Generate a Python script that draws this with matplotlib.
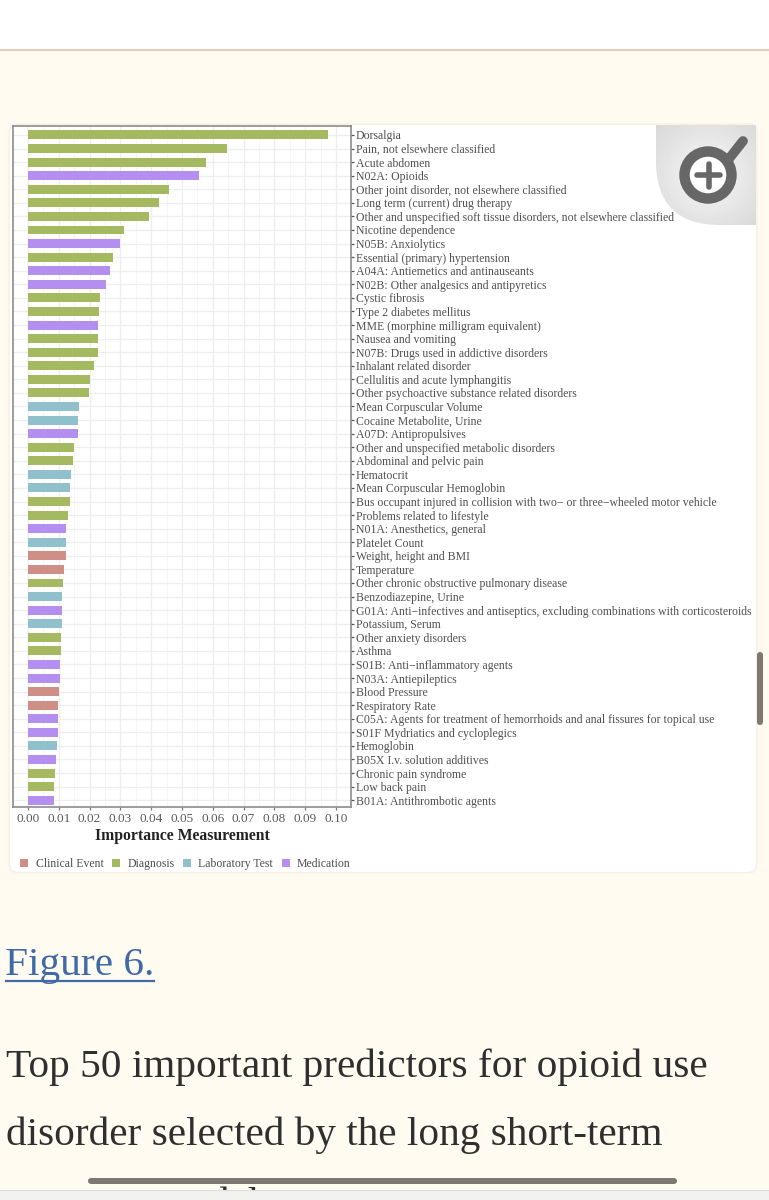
import numpy as np
import matplotlib
matplotlib.use('Agg')
import matplotlib.pyplot as plt
from matplotlib.patches import FancyBboxPatch, Rectangle, Circle, PathPatch
from matplotlib.path import Path

plt.rcParams['font.family'] = ['Liberation Serif', 'DejaVu Serif']

labels = [
    'Dorsalgia', 'Pain, not elsewhere classified', 'Acute abdomen', 'N02A: Opioids',
    'Other joint disorder, not elsewhere classified', 'Long term (current) drug therapy',
    'Other and unspecified soft tissue disorders, not elsewhere classified',
    'Nicotine dependence', 'N05B: Anxiolytics', 'Essential (primary) hypertension',
    'A04A: Antiemetics and antinauseants', 'N02B: Other analgesics and antipyretics',
    'Cystic fibrosis', 'Type 2 diabetes mellitus', 'MME (morphine milligram equivalent)',
    'Nausea and vomiting', 'N07B: Drugs used in addictive disorders',
    'Inhalant related disorder', 'Cellulitis and acute lymphangitis',
    'Other psychoactive substance related disorders', 'Mean Corpuscular Volume',
    'Cocaine Metabolite, Urine', 'A07D: Antipropulsives',
    'Other and unspecified metabolic disorders', 'Abdominal and pelvic pain', 'Hematocrit',
    'Mean Corpuscular Hemoglobin',
    'Bus occupant injured in collision with two\u2212 or three\u2212wheeled motor vehicle',
    'Problems related to lifestyle', 'N01A: Anesthetics, general', 'Platelet Count',
    'Weight, height and BMI', 'Temperature', 'Other chronic obstructive pulmonary disease',
    'Benzodiazepine, Urine',
    'G01A: Anti\u2212infectives and antiseptics, excluding combinations with corticosteroids',
    'Potassium, Serum', 'Other anxiety disorders', 'Asthma',
    'S01B: Anti\u2212inflammatory agents', 'N03A: Antiepileptics', 'Blood Pressure',
    'Respiratory Rate',
    'C05A: Agents for treatment of hemorrhoids and anal fissures for topical use',
    'S01F Mydriatics and cycloplegics', 'Hemoglobin', 'B05X I.v. solution additives',
    'Chronic pain syndrome', 'Low back pain', 'B01A: Antithrombotic agents',
]

values = [
    0.0974, 0.0645, 0.0577, 0.0555, 0.0457, 0.0424, 0.0392, 0.0313, 0.0298, 0.0275,
    0.0265, 0.0252, 0.0235, 0.0232, 0.0227, 0.0227, 0.0226, 0.0215, 0.0201, 0.0197,
    0.0165, 0.0164, 0.0163, 0.0148, 0.0146, 0.0141, 0.0137, 0.0135, 0.0131, 0.0125,
    0.0123, 0.0122, 0.0116, 0.0115, 0.0112, 0.0110, 0.0110, 0.0108, 0.0108, 0.0103,
    0.0103, 0.0101, 0.0099, 0.0098, 0.0097, 0.0093, 0.0090, 0.0089, 0.0085, 0.0083,
]

groups = list('DDDMDDDDMDMMDDMDDDDDLLMDDLLDDMLCCDLMLDDMMCCMMLMDDM')

group_names = ['Clinical Event', 'Diagnosis', 'Laboratory Test', 'Medication']
group_colors = {'C': '#d08f86', 'D': '#a5b961', 'L': '#90c0cc', 'M': '#b48ff0'}

xticks = [0.00, 0.01, 0.02, 0.03, 0.04, 0.05, 0.06, 0.07, 0.08, 0.09, 0.10]

W, H = 769, 1200
page = '#fffbf1'
fig = plt.figure(figsize=(W / 100, H / 100), dpi=100, facecolor=page)

# page furniture in pixel coordinates
bg = fig.add_axes([0, 0, 1, 1], zorder=0)
bg.set_xlim(0, W)
bg.set_ylim(H, 0)
bg.axis('off')
bg.add_patch(Rectangle((0, 0), W, 49, fc='white', ec='none'))
bg.plot([0, W], [49.5, 49.5], color='#e8cbbb', lw=1.5)
for grow, col in [(4, '#fdf3e6'), (2, '#fbeee2')]:
    bg.add_patch(FancyBboxPatch((10 - grow / 2, 125 - grow / 2), 746 + grow, 747 + grow,
                                boxstyle='round,pad=0,rounding_size=10', fc=col, ec='none'))
bg.add_patch(FancyBboxPatch((10, 125), 746, 747, boxstyle='round,pad=0,rounding_size=9',
                            fc='white', ec='none'))

# legend row
leg_box = [20, 112, 183, 282]
leg_txt = [36, 128, 198, 297]
for name, key, bx, tx in zip(group_names, 'CDLM', leg_box, leg_txt):
    bg.add_patch(Rectangle((bx, 859), 8, 8, fc=group_colors[key], ec='none'))
    bg.text(tx, 867, name, fontsize=8.5, color='#4d4d4d', va='baseline', ha='left')

# caption
bg.text(5, 975, 'Figure 6.', fontsize=29.8, color='#3f6aa6', va='baseline')
bg.plot([6, 154], [980.5, 980.5], color='#3f6aa6', lw=1.6)
bg.text(6, 1077, 'Top 50 important predictors for opioid use', fontsize=29.7, color='#2f2f2f',
        va='baseline')
bg.text(6, 1145, 'disorder selected by the long short-term', fontsize=29.7, color='#2f2f2f',
        va='baseline')
bg.text(8, 1215, 'memory model.', fontsize=29.7, color='#2f2f2f', va='baseline', clip_on=True)
bg.add_patch(Rectangle((0, 1190), W, 10, fc='#f2f2f0', ec='none', zorder=5))
bg.plot([0, W], [1190, 1190], color='#dcdcd8', lw=0.8, zorder=5)
bg.add_patch(FancyBboxPatch((88, 1178), 589, 6, boxstyle='round,pad=0,rounding_size=3',
                            fc='#7d7970', ec='none', zorder=6))
bg.add_patch(FancyBboxPatch((757, 652), 6, 73, boxstyle='round,pad=0,rounding_size=3',
                            fc='#7d7970', ec='none', zorder=6))

# the chart: pixel box 13..351 x 126..807
ax = fig.add_axes([13 / W, 1 - 807 / H, (351 - 13) / W, (807 - 126) / H], zorder=2)
ax.patch.set_alpha(0)
y = np.arange(len(labels))
ax.barh(y, values, height=0.66, color=[group_colors[g] for g in groups], zorder=3)
ax.set_xlim(-0.00487, 0.1049)
ax.set_ylim(49.5, -0.66)

ax.set_xticks(xticks)
ax.set_xticklabels(['%.2f' % t for t in xticks], fontsize=9.5, color='#5a5a5a')
ax.set_xticks(np.array(xticks[:-1]) + 0.005, minor=True)
ax.set_yticks(y)
ax.set_yticklabels(labels, fontsize=8.45, color='#505050')
ax.yaxis.tick_right()
ax.tick_params(axis='y', length=2.5, width=0.9, color='#555555', pad=1.1)
ax.tick_params(axis='x', which='major', length=2.5, width=0.9, color='#777777', pad=1.8)
ax.tick_params(axis='x', which='minor', length=0)
ax.grid(True, which='major', axis='both', color='#eeeeee', lw=0.9, zorder=0)
ax.grid(True, which='minor', axis='x', color='#f5f5f5', lw=0.7, zorder=0)
ax.set_axisbelow(True)
for s in ax.spines.values():
    s.set_color('#8c8c8c')
    s.set_linewidth(1.2)
ax.set_xlabel('Importance Measurement', fontsize=11.3, fontweight='bold', color='#222222',
              labelpad=2.5)

# zoom badge, top right of the card
top = fig.add_axes([0, 0, 1, 1], zorder=3)
top.set_xlim(0, W)
top.set_ylim(H, 0)
top.axis('off')
gx, gy = np.meshgrid(np.linspace(656, 756, 100), np.linspace(125, 225, 100))
shade = 0.97 - 0.12 * np.hypot(gx - 708, gy - 175) / 70
im = top.imshow(shade, extent=(656, 756, 225, 125), cmap='gray', vmin=0, vmax=1,
                aspect='auto', zorder=1)
r = 64
verts = [(656, 125), (756, 125), (756, 225), (656 + r, 225), (656, 225), (656, 225 - r), (656, 125)]
codes = [Path.MOVETO, Path.LINETO, Path.LINETO, Path.LINETO, Path.CURVE3, Path.CURVE3, Path.CLOSEPOLY]
clip = PathPatch(Path(verts, codes), fc='none', ec='none', transform=top.transData)
top.add_patch(clip)
im.set_clip_path(clip)
icon = '#676767'
top.plot([728, 743], [160, 141], color=icon, lw=7, solid_capstyle='round', zorder=2)
top.add_patch(Circle((708, 175), 23.5, fc='white', ec=icon, lw=7.5, zorder=3))
top.plot([697, 720], [175, 175], color=icon, lw=4, solid_capstyle='round', zorder=4)
top.plot([708.5, 708.5], [164, 187], color=icon, lw=4, solid_capstyle='round', zorder=4)
top.set_xlim(0, W)
top.set_ylim(H, 0)

fig.savefig('out.png', dpi=100, facecolor=page)
